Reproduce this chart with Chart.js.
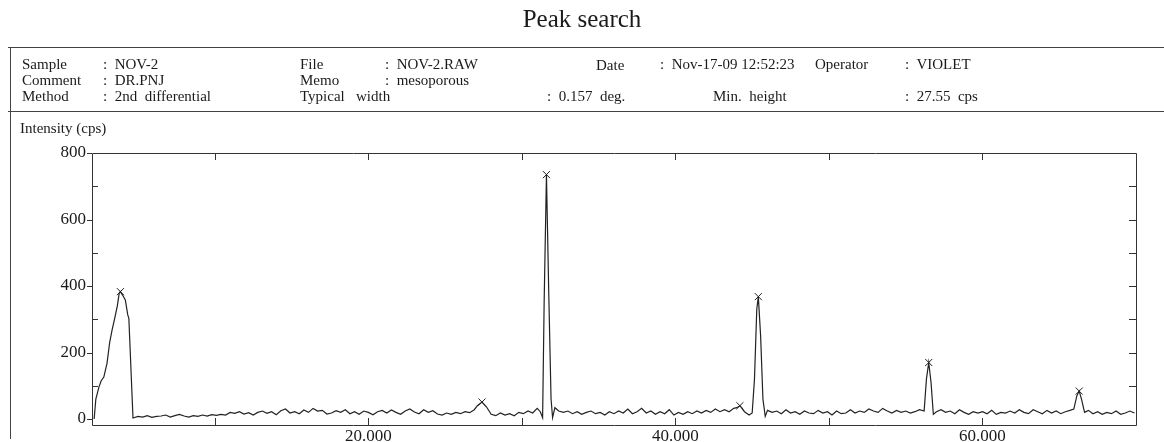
<!DOCTYPE html>
<html>
<head>
<meta charset="utf-8">
<script src="https://cdn.jsdelivr.net/npm/chart.js@4.4.1/dist/chart.umd.min.js"></script>
<style>
  body { margin: 0; background: #fff; }
  #wrap { position: relative; width: 1164px; height: 442px; font-family: "Liberation Serif", "DejaVu Serif", serif; color: #1a1a1a; }
  #chart { position: absolute; left: 0; top: 0; }
  .t { position: absolute; font-size: 15px; line-height: 18px; white-space: pre; }
  #title { position: absolute; left: 0; width: 1164px; top: 5px; text-align: center; font-size: 25px; }
  .hline { position: absolute; height: 0; border-top: 1px solid #444; }
  .vline { position: absolute; width: 0; border-left: 1px solid #444; }
</style>
</head>
<body>
<div id="wrap">
  <canvas id="chart" width="1164" height="442"></canvas>
  <div id="title">Peak search</div>
  <div class="hline" style="left:8px; width:1156px; top:47px"></div>
  <div class="hline" style="left:8px; width:1156px; top:111px"></div>
  <div class="vline" style="left:10px; top:47px; height:392px"></div>

  <div class="t" style="left:22px; top:55px">Sample</div>
  <div class="t" style="left:103px; top:55px">:  NOV-2</div>
  <div class="t" style="left:300px; top:55px">File</div>
  <div class="t" style="left:385px; top:55px">:  NOV-2.RAW</div>
  <div class="t" style="left:596px; top:56px">Date</div>
  <div class="t" style="left:660px; top:55px">:  Nov-17-09 12:52:23</div>
  <div class="t" style="left:815px; top:55px">Operator</div>
  <div class="t" style="left:905px; top:55px">:  VIOLET</div>

  <div class="t" style="left:22px; top:71px">Comment</div>
  <div class="t" style="left:103px; top:71px">:  DR.PNJ</div>
  <div class="t" style="left:300px; top:71px">Memo</div>
  <div class="t" style="left:385px; top:71px">:  mesoporous</div>

  <div class="t" style="left:22px; top:87px">Method</div>
  <div class="t" style="left:103px; top:87px">:  2nd  differential</div>
  <div class="t" style="left:300px; top:87px">Typical   width</div>
  <div class="t" style="left:547px; top:87px">:  0.157  deg.</div>
  <div class="t" style="left:713px; top:87px">Min.  height</div>
  <div class="t" style="left:905px; top:87px">:  27.55  cps</div>

  <div class="t" style="left:20px; top:119px">Intensity (cps)</div>
</div>
<script>
// 2-theta (deg) and intensity (cps)
const angles = [
  2.14, 2.25, 2.45, 2.6, 2.77, 2.98, 3.15, 3.31, 3.5, 3.65, 3.77, 3.85, 4.0, 4.17, 4.33, 4.4, 4.67,
  5.0, 5.3, 5.6, 5.9, 6.2, 6.5, 6.8, 7.1, 7.4, 7.7, 8.0, 8.3, 8.6, 8.9, 9.2, 9.5, 9.8, 10.1,
  10.4, 10.7, 11.0, 11.3, 11.6, 11.9, 12.2, 12.5, 12.8, 13.1, 13.4, 13.7, 14.0, 14.3, 14.6, 14.9,
  15.2, 15.5, 15.8, 16.1, 16.4, 16.7, 17.0, 17.3, 17.6, 17.9, 18.2, 18.5, 18.8, 19.1, 19.4, 19.7, 20.0,
  20.3, 20.6, 20.9, 21.2, 21.5, 21.8, 22.1, 22.4, 22.7, 23.0, 23.3, 23.6, 23.9, 24.2, 24.5, 24.8,
  25.1, 25.4, 25.7, 26.0, 26.3, 26.6, 26.9, 27.1, 27.4, 27.7, 28.0, 28.3, 28.6, 28.9, 29.2, 29.5,
  29.8, 30.1, 30.4, 30.7, 31.0, 31.2, 31.35, 31.45, 31.6, 31.75, 31.9, 32.0, 32.15, 32.4,
  32.7, 33.0, 33.3, 33.6, 33.9, 34.2, 34.5, 34.8, 35.1, 35.4, 35.7, 36.0, 36.3, 36.6, 36.9, 37.2,
  37.5, 37.8, 38.1, 38.4, 38.7, 39.0, 39.3, 39.6, 39.9, 40.2, 40.5, 40.8, 41.1, 41.4, 41.7, 42.0,
  42.3, 42.6, 42.9, 43.2, 43.5, 43.8, 44.0, 44.2, 44.5, 44.8, 45.0, 45.15, 45.3, 45.4, 45.55, 45.7,
  45.85, 46.0, 46.3, 46.6, 46.9, 47.2, 47.5, 47.8, 48.1, 48.4, 48.7, 49.0, 49.3, 49.6, 49.9, 50.2,
  50.5, 50.8, 51.1, 51.4, 51.7, 52.0, 52.3, 52.6, 52.9, 53.2, 53.5, 53.8, 54.1, 54.4, 54.7, 55.0,
  55.3, 55.6, 55.9, 56.2, 56.35, 56.5, 56.65, 56.8, 57.0, 57.3, 57.6, 57.9, 58.2, 58.5, 58.8, 59.1,
  59.4, 59.7, 60.0, 60.3, 60.6, 60.9, 61.2, 61.5, 61.8, 62.1, 62.4, 62.7, 63.0, 63.3, 63.6, 63.9,
  64.2, 64.5, 64.8, 65.1, 65.4, 65.7, 65.95, 66.15, 66.3, 66.45, 66.65, 66.9, 67.2, 67.5, 67.8, 68.1,
  68.4, 68.7, 69.0, 69.3, 69.6, 69.9
];
const counts = [
  0, 60, 96, 115, 126, 168, 230, 268, 307, 340, 378, 383, 372, 358, 313, 303, 3,
  8, 6, 10, 5, 8, 9, 12, 6, 10, 14, 9, 6, 10, 8, 12, 9, 13, 11,
  14, 12, 20, 17, 22, 15, 19, 12, 20, 24, 17, 22, 13, 25, 30, 18,
  22, 16, 27, 20, 32, 24, 26, 15, 18, 25, 20, 28, 16, 22, 14, 24, 20,
  13, 22, 26, 18, 27, 20, 14, 24, 30, 21, 16, 28, 20, 25, 15, 12,
  18, 14, 20, 16, 22, 19, 28, 40, 51, 36, 14, 10, 18, 12, 16, 10,
  20, 16, 24, 18, 32, 22, 4, 350, 735, 380, 60, 4, 34, 24,
  20, 24, 16, 22, 14, 20, 24, 16, 20, 12, 22, 16, 24, 18, 30, 16,
  22, 32, 18, 24, 14, 22, 16, 28, 12, 20, 14, 22, 16, 24, 18, 26,
  20, 30, 22, 28, 22, 32, 34, 40, 22, 12, 18, 120, 330, 368, 250, 60,
  8, 26, 20, 24, 16, 28, 18, 22, 14, 24, 18, 16, 26, 18, 22, 12,
  24, 16, 18, 28, 18, 24, 20, 30, 24, 20, 32, 24, 18, 26, 20, 24,
  18, 22, 28, 24, 120, 170, 110, 14, 22, 28, 20, 24, 16, 28, 20, 14,
  22, 18, 22, 16, 26, 14, 20, 18, 24, 18, 28, 20, 16, 28, 22, 16,
  26, 18, 24, 16, 22, 26, 30, 70, 84, 60, 20, 26, 16, 22, 14, 20,
  16, 24, 14, 18, 24, 18
];
// peaks marked with x by the search
const peakAngles = [3.85, 27.4, 31.6, 44.2, 45.4, 56.5, 66.3];
const peakCounts = [383, 51, 735, 40, 368, 170, 84];

const xTickValues = [10, 20, 30, 40, 50, 60];
const xLabelValues = [20, 40, 60];
const yLabelValues = [0, 200, 400, 600, 800];
const yMinorValues = [100, 300, 500, 700];

const lineColor = '#222';

const frameTicks = {
  id: 'frameTicks',
  afterDraw(chart) {
    const { ctx, chartArea: a, scales } = chart;
    const xs = scales.x, ys = scales.y;
    ctx.save();
    ctx.strokeStyle = '#333';
    ctx.lineWidth = 1;
    ctx.beginPath();
    ctx.rect(a.left + 0.5, a.top + 0.5, a.right - a.left, a.bottom - a.top);
    xTickValues.forEach(v => {
      const px = Math.round(xs.getPixelForValue(v)) + 0.5;
      ctx.moveTo(px, a.bottom); ctx.lineTo(px, a.bottom - 7);
      ctx.moveTo(px, a.top); ctx.lineTo(px, a.top + 7);
    });
    yLabelValues.forEach(v => {
      const py = Math.round(ys.getPixelForValue(v)) + 0.5;
      ctx.moveTo(a.left - 5, py); ctx.lineTo(a.left, py);
    });
    yMinorValues.forEach(v => {
      const py = Math.round(ys.getPixelForValue(v)) + 0.5;
      ctx.moveTo(a.left, py); ctx.lineTo(a.left + 6, py);
    });
    yMinorValues.concat([200, 400, 600]).forEach(v => {
      const py = Math.round(ys.getPixelForValue(v)) + 0.5;
      ctx.moveTo(a.right, py); ctx.lineTo(a.right - 7, py);
    });
    ctx.stroke();
    ctx.restore();
  }
};

new Chart(document.getElementById('chart'), {
  type: 'scatter',
  data: {
    datasets: [
      {
        label: 'Intensity',
        data: angles.map((a, i) => ({ x: a, y: counts[i] })),
        showLine: true,
        borderColor: lineColor,
        borderWidth: 1.2,
        pointRadius: 0,
        tension: 0
      },
      {
        label: 'Peaks',
        data: peakAngles.map((a, i) => ({ x: a, y: peakCounts[i] })),
        showLine: false,
        pointStyle: 'crossRot',
        pointRadius: 5,
        borderColor: lineColor,
        borderWidth: 1
      }
    ]
  },
  options: {
    responsive: false,
    animation: false,
    layout: { padding: { left: 52, right: 28, top: 153, bottom: 0 } },
    plugins: { legend: { display: false }, tooltip: { enabled: false } },
    scales: {
      x: {
        type: 'linear',
        min: 2,
        max: 70,
        grid: { display: false, drawTicks: false },
        border: { display: false },
        afterBuildTicks: s => { s.ticks = xLabelValues.map(v => ({ value: v })); },
        afterFit: s => { s.height = 17; },
        ticks: {
          padding: 1,
          color: '#1a1a1a',
          font: { family: 'Liberation Serif', size: 17 },
          maxRotation: 0,
          callback: v => v.toFixed(3)
        }
      },
      y: {
        min: -18,
        max: 800,
        grid: { display: false, drawTicks: false },
        border: { display: false },
        afterBuildTicks: s => { s.ticks = yLabelValues.map(v => ({ value: v })); },
        afterFit: s => { s.width = 40; },
        ticks: {
          padding: 6,
          color: '#1a1a1a',
          font: { family: 'Liberation Serif', size: 17 }
        }
      }
    }
  },
  plugins: [frameTicks]
});
</script>
</body>
</html>
